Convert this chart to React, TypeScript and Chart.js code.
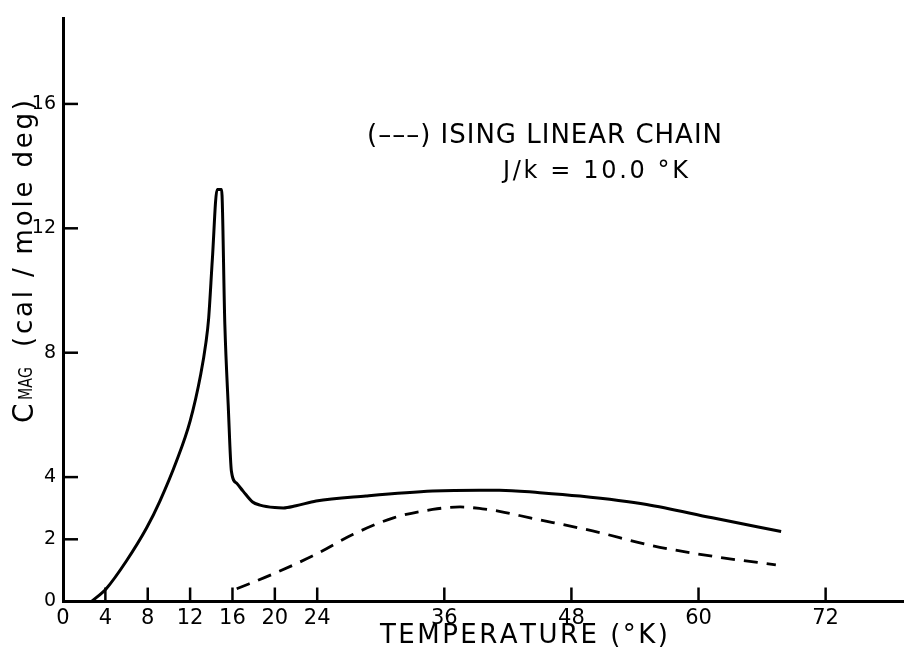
import React, { useEffect, useRef } from "react";
import { Chart, registerables } from "chart.js";

Chart.register(...registerables);

// Solid curve: measured magnetic heat capacity
const measuredT = [2.7, 4.1, 6.0, 7.9, 9.15, 10.7, 12.0, 13.0, 13.5, 13.75, 14.1, 14.55, 14.97, 15.28, 15.6, 15.9, 16.4, 17.0, 17.9, 18.6, 20.0, 20.8, 22.0, 23.9, 28.6, 34.9, 39.3, 41.2, 45.0, 48.8, 55.1, 61.3, 67.8];
const measuredC = [0.0, 0.42, 1.31, 2.37, 3.23, 4.5, 5.8, 7.3, 8.34, 9.1, 11.0, 13.25, 13.25, 8.9, 6.3, 4.19, 3.8, 3.55, 3.2, 3.1, 3.02, 3.01, 3.08, 3.23, 3.39, 3.55, 3.58, 3.58, 3.5, 3.39, 3.12, 2.69, 2.25];

// Dashed curve: Ising linear chain, J/k = 10.0 K
const isingT = [16.4, 19.8, 23.9, 27.4, 31.2, 34.9, 37.5, 39.6, 41.2, 44.1, 50.0, 55.7, 62.0, 67.3];
const isingC = [0.41, 0.88, 1.52, 2.16, 2.69, 2.96, 3.04, 2.98, 2.9, 2.69, 2.27, 1.79, 1.42, 1.18];

const xTickValues = [0, 4, 8, 12, 16, 20, 24, 36, 48, 60, 72];
const yTickValues = [0, 2, 4, 8, 12, 16];

const legendLine = "(–––) ISING LINEAR CHAIN";
const paramLine = "J/k = 10.0 °K";
const xTitle = "TEMPERATURE (°K)";
const yTitleMain = "C";
const yTitleSub = "MAG";
const yTitleRest = "(cal / mole deg)";

const FONT = '"DejaVu Sans", "Liberation Sans", sans-serif';

function drawSpread(ctx: CanvasRenderingContext2D, text: string, x0: number, x1: number, y: number) {
  const chars = Array.from(text);
  const widths = chars.map((c) => ctx.measureText(c).width);
  const natural = widths.reduce((a, b) => a + b, 0);
  const target = x1 - x0;
  ctx.save();
  ctx.translate(x0, y);
  let extra = 0;
  if (natural > target) ctx.scale(target / natural, 1);
  else if (chars.length > 1) extra = (target - natural) / (chars.length - 1);
  let x = 0;
  chars.forEach((c, i) => {
    ctx.fillText(c, x, 0);
    x += widths[i] + extra;
  });
  ctx.restore();
}

const annotationPlugin = {
  id: "annotations",
  beforeDraw(chart: any) {
    const ctx = chart.ctx;
    ctx.save();
    ctx.fillStyle = "#fff";
    ctx.fillRect(0, 0, chart.width, chart.height);
    ctx.restore();
  },
  afterDraw(chart: any) {
    const ctx: CanvasRenderingContext2D = chart.ctx;
    const xs = chart.scales.x;
    const ys = chart.scales.y;
    const area = chart.chartArea;
    ctx.save();
    // inward tick marks
    ctx.strokeStyle = "#000";
    ctx.lineWidth = 2.5;
    ctx.lineCap = "butt";
    xTickValues.forEach((v) => {
      if (v === 0) return;
      const px = xs.getPixelForValue(v);
      ctx.beginPath();
      ctx.moveTo(px, area.bottom);
      ctx.lineTo(px, area.bottom - 14);
      ctx.stroke();
    });
    yTickValues.forEach((v) => {
      if (v === 0) return;
      const py = ys.getPixelForValue(v);
      ctx.beginPath();
      ctx.moveTo(area.left, py);
      ctx.lineTo(area.left + 15, py);
      ctx.stroke();
    });

    ctx.fillStyle = "#000";
    ctx.textAlign = "left";
    ctx.textBaseline = "alphabetic";

    // annotation text
    ctx.font = `26px ${FONT}`;
    drawSpread(ctx, legendLine, 367, 722, 143);
    ctx.font = `24px ${FONT}`;
    drawSpread(ctx, paramLine, 503, 688, 178);

    // x axis title
    ctx.font = `26px ${FONT}`;
    drawSpread(ctx, xTitle, 380, 668, 643);

    // y axis title (rotated)
    ctx.save();
    ctx.translate(33, 423);
    ctx.rotate(-Math.PI / 2);
    ctx.font = `28px ${FONT}`;
    drawSpread(ctx, yTitleMain, 0, 22, 0);
    ctx.font = `19px ${FONT}`;
    drawSpread(ctx, yTitleSub, 23, 56, -1);
    ctx.font = `26px ${FONT}`;
    drawSpread(ctx, yTitleRest, 76, 323, -1);
    ctx.restore();

    ctx.restore();
  },
};

export default function App() {
  const ref = useRef<HTMLCanvasElement | null>(null);

  useEffect(() => {
    if (!ref.current) return;
    const measured = measuredT.map((t, i) => ({ x: t, y: measuredC[i] }));
    const ising = isingT.map((t, i) => ({ x: t, y: isingC[i] }));
    const chart = new Chart(ref.current, {
      type: "line",
      data: {
        datasets: [
          {
            label: "Measured",
            data: measured,
            borderColor: "#000",
            borderWidth: 3,
            pointRadius: 0,
            fill: false,
            cubicInterpolationMode: "monotone",
          },
          {
            label: "Ising linear chain",
            data: ising,
            borderColor: "#000",
            borderWidth: 2.8,
            borderDash: [14, 9],
            pointRadius: 0,
            fill: false,
            cubicInterpolationMode: "monotone",
          },
        ],
      },
      options: {
        responsive: false,
        animation: false,
        layout: { padding: { top: 14, left: 0, right: 0, bottom: 0 } },
        plugins: { legend: { display: false }, tooltip: { enabled: false } },
        scales: {
          x: {
            type: "linear",
            min: 0,
            max: 79.4,
            grid: { display: false, drawTicks: false },
            border: { display: true, color: "#000", width: 3 },
            afterBuildTicks: (scale: any) => {
              scale.ticks = xTickValues.map((v) => ({ value: v }));
            },
            afterFit: (scale: any) => {
              scale.height = 46.5;
            },
            ticks: {
              autoSkip: false,
              maxRotation: 0,
              color: "#000",
              padding: 4,
              font: { family: FONT, size: 21 },
              callback: (v: any) => String(v),
            },
          },
          y: {
            type: "linear",
            min: 0,
            max: 18.75,
            grid: { display: false, drawTicks: false },
            border: { display: true, color: "#000", width: 3 },
            afterBuildTicks: (scale: any) => {
              scale.ticks = yTickValues.map((v) => ({ value: v }));
            },
            afterFit: (scale: any) => {
              scale.width = 63;
            },
            ticks: {
              autoSkip: false,
              color: "#000",
              padding: 7,
              font: { family: FONT, size: 19 },
              callback: (v: any) => String(v),
            },
          },
        },
      },
      plugins: [annotationPlugin],
    });
    return () => chart.destroy();
  }, []);

  return (
    <div style={{ position: "fixed", left: 0, top: 0, width: 904, height: 648, background: "#fff" }}>
      <canvas ref={ref} width={904} height={648} style={{ display: "block", width: 904, height: 648 }} />
    </div>
  );
}
